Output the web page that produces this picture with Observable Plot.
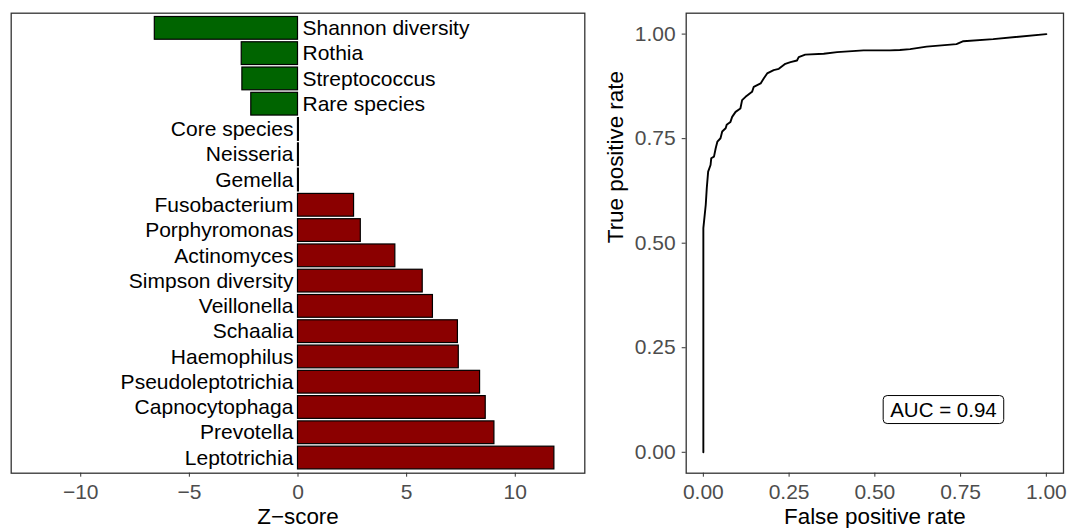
<!DOCTYPE html>
<html>
<head>
<meta charset="utf-8">
<script src="https://cdn.jsdelivr.net/npm/d3@7"></script>
<script src="https://cdn.jsdelivr.net/npm/@observablehq/plot@0.6"></script>
<style>
  html, body { margin: 0; padding: 0; background: #fff; }
  #wrap { position: relative; width: 1070px; height: 528px; font-family: "Liberation Sans", Arial, Helvetica, sans-serif; }
  #wrap > svg { position: absolute; top: 0; }
</style>
</head>
<body>
<div id="wrap"></div>
<script>
// ---- Data: left panel (z-scores) ----
const taxa = ["Shannon diversity", "Rothia", "Streptococcus", "Rare species", "Core species", "Neisseria", "Gemella",
  "Fusobacterium", "Porphyromonas", "Actinomyces", "Simpson diversity", "Veillonella", "Schaalia", "Haemophilus",
  "Pseudoleptotrichia", "Capnocytophaga", "Prevotella", "Leptotrichia"];
const zscores = [-6.59, -2.59, -2.56, -2.15, 0.04, 0.04, 0.04,
  2.58, 2.89, 4.48, 5.74, 6.21, 7.36, 7.40,
  8.38, 8.64, 9.04, 11.8];
const zTicks = [-10, -5, 0, 5, 10];

// ---- Data: right panel (ROC curve) ----
const fpr = [0, 0, 0.007, 0.010, 0.014, 0.021, 0.023, 0.031, 0.036, 0.041, 0.050, 0.055, 0.065, 0.068, 0.079, 0.084,
  0.094, 0.108, 0.113, 0.123, 0.142, 0.147, 0.167, 0.176, 0.186, 0.205, 0.220, 0.239, 0.254, 0.273, 0.278, 0.297,
  0.351, 0.390, 0.467, 0.544, 0.573, 0.603, 0.651, 0.738, 0.758, 0.845, 1.000];
const tpr = [0, 0.536, 0.592, 0.632, 0.671, 0.687, 0.703, 0.707, 0.727, 0.743, 0.751, 0.767, 0.775, 0.783, 0.790, 0.802,
  0.814, 0.822, 0.842, 0.850, 0.862, 0.874, 0.882, 0.894, 0.906, 0.914, 0.917, 0.929, 0.933, 0.937, 0.945, 0.951,
  0.953, 0.957, 0.961, 0.961, 0.962, 0.964, 0.970, 0.976, 0.983, 0.988, 1.000];
const rateTicks = [0, 0.25, 0.5, 0.75, 1];
const aucText = "AUC = 0.94";
const aucPos = {x: 0.7, y: 0.1};

const bars = taxa.map((t, i) => ({taxon: t, z: zscores[i]}));
const roc = fpr.map((f, i) => ({fpr: f, tpr: tpr[i]}));

const FONT = "Liberation Sans, Arial, Helvetica, sans-serif";
const minusFmt = d => (d < 0 ? "\u2212" + Math.abs(d) : String(d));

const left = Plot.plot({
  width: 600, height: 528,
  marginLeft: 10.7, marginRight: 15.7, marginTop: 12.7, marginBottom: 55.3,
  style: {fontFamily: FONT, background: "transparent"},
  x: {domain: [-13.2, 13.2], ticks: zTicks},
  y: {domain: taxa, paddingInner: 0.1, paddingOuter: 0.15, round: false, axis: null},
  marks: [
    Plot.barX(bars, {x: "z", y: "taxon", fill: d => d.z < 0 ? "#006400" : "#8B0000", stroke: "#000", strokeWidth: 1.2}),
    Plot.text(bars.filter(d => d.z < 0), {x: 0, y: "taxon", text: "taxon", textAnchor: "start", dx: 4.5, fontSize: 21, fill: "#000"}),
    Plot.text(bars.filter(d => d.z >= 0), {x: 0, y: "taxon", text: "taxon", textAnchor: "end", dx: -4.6, fontSize: 21, fill: "#000"}),
    Plot.frame({stroke: "#333", strokeWidth: 1.3}),
    Plot.axisX(zTicks, {tickFormat: minusFmt, tickSize: 4, tickPadding: 6.6, fontSize: 21, stroke: "#333", fill: "#4D4D4D", label: null}),
    Plot.text(["Z\u2212score"], {frameAnchor: "bottom", dy: 44, lineAnchor: "middle", fontSize: 22.4, fill: "#000"})
  ]
});
left.style.left = "0px";

const right = Plot.plot({
  width: 510, height: 528,
  marginLeft: 125.7, marginRight: 7, marginTop: 12.7, marginBottom: 55.3,
  style: {fontFamily: FONT, background: "transparent"},
  x: {domain: [-0.05, 1.05]},
  y: {domain: [-0.05, 1.05]},
  marks: [
    Plot.line(roc, {x: "fpr", y: "tpr", stroke: "#000", strokeWidth: 1.9}),
    Plot.text([aucPos], {x: "x", y: "y", text: () => aucText, fontSize: 20.5, fill: "#000", className: "auc-label"}),
    Plot.frame({stroke: "#333", strokeWidth: 1.3}),
    Plot.axisX(rateTicks, {tickFormat: d3.format(".2f"), tickSize: 4, tickPadding: 6.6, fontSize: 21, stroke: "#333", fill: "#4D4D4D", label: null}),
    Plot.axisY(rateTicks, {tickFormat: d3.format(".2f"), tickSize: 4, tickPadding: 6.5, fontSize: 21, stroke: "#333", fill: "#4D4D4D", label: null}),
    Plot.text(["False positive rate"], {frameAnchor: "bottom", dy: 44, lineAnchor: "middle", fontSize: 22.4, fill: "#000"}),
    Plot.text(["True positive rate"], {frameAnchor: "left", dx: -70, rotate: -90, lineAnchor: "middle", fontSize: 22.4, fill: "#000"})
  ]
});
right.style.left = "560px";

const wrap = document.getElementById("wrap");
wrap.appendChild(left);
wrap.appendChild(right);

// rounded box behind the AUC label (sized from the rendered text)
const g = right.querySelector("g.auc-label");
if (g) {
  const t = g.querySelector("text");
  const bb = t.getBBox();
  const padX = 7, padY = 2.5;
  const rect = document.createElementNS("http://www.w3.org/2000/svg", "rect");
  rect.setAttribute("x", bb.x - padX);
  rect.setAttribute("y", bb.y - padY);
  rect.setAttribute("width", bb.width + 2 * padX);
  rect.setAttribute("height", bb.height + 2 * padY);
  rect.setAttribute("rx", 4);
  rect.setAttribute("fill", "#fff");
  rect.setAttribute("stroke", "#000");
  rect.setAttribute("stroke-width", 1);
  const tr = t.getAttribute("transform");
  if (tr) rect.setAttribute("transform", tr);
  g.insertBefore(rect, t);
}
</script>
</body>
</html>
